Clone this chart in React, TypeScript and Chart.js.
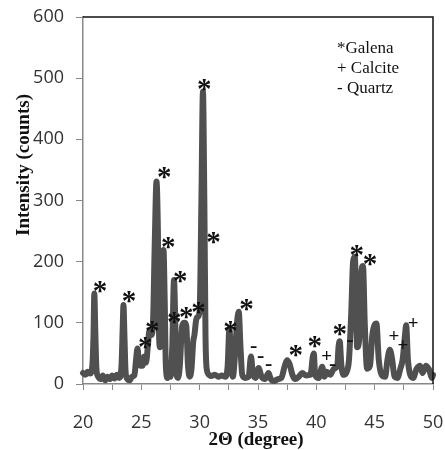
import React, { useEffect, useRef } from "react";
import { Chart, registerables } from "chart.js";

Chart.register(...registerables);

// XRD pattern: 2θ (degree) vs intensity (counts)
const twoTheta = [
  20.0, 20.2, 20.4, 20.6, 20.8, 20.9, 20.97, 21.05, 21.15, 21.3, 21.5, 21.7, 21.9, 22.1, 22.3, 22.5, 22.7, 22.9, 23.1,
  23.3, 23.4, 23.47, 23.55, 23.65, 23.8, 24.0, 24.2, 24.4, 24.55, 24.67, 24.8, 24.95, 25.1, 25.25, 25.4, 25.55, 25.7,
  25.85, 26.0, 26.15, 26.3, 26.42, 26.52, 26.6, 26.75, 26.9, 27.0, 27.1, 27.25, 27.4, 27.5, 27.65, 27.8, 27.9, 28.0,
  28.15, 28.3, 28.5, 28.7, 28.85, 29.0, 29.15, 29.3, 29.45, 29.55, 29.7, 29.85, 30.0, 30.15, 30.28, 30.4, 30.5, 30.6,
  30.8, 31.0, 31.3, 31.6, 31.9, 32.2, 32.4, 32.55, 32.7, 32.85, 33.0, 33.2, 33.35, 33.5, 33.65, 33.9, 34.2, 34.4, 34.55,
  34.8, 35.05, 35.3, 35.6, 35.9, 36.1, 36.4, 36.7, 37.0, 37.3, 37.5, 37.7, 37.95, 38.2, 38.5, 38.8, 39.1, 39.5, 39.7,
  39.78, 39.9, 40.2, 40.5, 40.7, 40.9, 41.2, 41.5, 41.8, 41.9, 42.0, 42.15, 42.35, 42.6, 42.8, 43.0, 43.15, 43.3, 43.5,
  43.7, 43.85, 44.0, 44.15, 44.35, 44.6, 44.8, 45.0, 45.15, 45.35, 45.6, 45.9, 46.1, 46.3, 46.5, 46.7, 46.95, 47.2,
  47.4, 47.6, 47.7, 47.85, 48.05, 48.3, 48.6, 48.9, 49.1, 49.4, 49.7, 49.9, 50.0,
];
const counts = [
  18, 15, 20, 17, 30, 80, 148, 90, 25, 12, 8, 14, 6, 12, 8, 14, 9, 15, 10,
  30, 90, 129, 80, 20, 8, 6, 12, 14, 40, 58, 35, 30, 30, 45, 35, 60, 88,
  80, 100, 230, 331, 250, 80, 60, 130, 219, 140, 30, 10, 20, 12, 60, 170, 110, 20,
  10, 30, 95, 100, 95, 30, 12, 25, 70, 80, 105, 110, 120, 300, 478, 300, 80, 25,
  15, 13, 15, 12, 14, 12, 30, 91, 30, 12, 40, 100, 118, 60, 15, 10, 12, 45, 18,
  10, 26, 12, 8, 18, 8, 5, 8, 10, 30, 39, 33, 15, 8, 12, 18, 14, 15, 45,
  50, 15, 10, 28, 12, 20, 15, 25, 30, 60, 70, 30, 15, 20, 40, 120, 200, 208, 60,
  80, 180, 193, 100, 25, 30, 80, 97, 99, 40, 15, 12, 40, 56, 40, 12, 10, 25,
  40, 80, 96, 40, 15, 10, 25, 30, 18, 30, 22, 10, 15,
];

// Phase markers placed above peaks
const markerX = [
  21.46, 23.95, 25.33, 25.93, 26.96, 27.31, 28.34, 27.82, 28.86, 29.89, 30.4, 31.18, 32.64, 34.02,
  34.62, 35.22, 35.91, 38.23, 39.86, 40.89, 41.41, 42.01, 42.87, 43.47, 44.59, 46.66, 47.43, 48.29,
];
const markerY = [
  158, 142, 67, 93, 345, 230, 175, 108, 116, 124, 489, 239, 93, 129,
  60, 44, 31, 54, 69, 46, 31, 88, 70, 217, 203, 80, 65, 100,
];
const markerText = [
  "*", "*", "*", "*", "*", "*", "*", "*", "*", "*", "*", "*", "*", "*",
  "-", "-", "-", "*", "*", "+", "-", "*", "-", "*", "*", "+", "+", "+",
];

const legendLines = ["*Galena", "+ Calcite", "- Quartz"];
const xTitle = "2\u0398 (degree)";
const yTitle = "Intensity (counts)";

function zeroPadding(s: any) {
  s.paddingTop = 0;
  s.paddingBottom = 0;
  s.paddingLeft = 0;
  s.paddingRight = 0;
}

export default function App() {
  const ref = useRef<HTMLCanvasElement | null>(null);

  useEffect(() => {
    const canvas = ref.current;
    if (!canvas) return;

    const overlay = {
      id: "overlay",
      afterDatasetsDraw(chart: any) {
        const ctx = chart.ctx;
        const xs = chart.scales.x;
        const ys = chart.scales.y;
        ctx.save();
        ctx.fillStyle = "#111";
        ctx.textAlign = "center";
        ctx.textBaseline = "alphabetic";
        for (let i = 0; i < markerX.length; i++) {
          const t = markerText[i];
          if (t === "*") ctx.font = 'bold 29px "Liberation Serif"';
          else if (t === "+") ctx.font = 'bold 19px "Liberation Serif"';
          else ctx.font = 'bold 22px "Liberation Serif"';
          const m = ctx.measureText(t);
          const px = xs.getPixelForValue(markerX[i]);
          const py = ys.getPixelForValue(markerY[i]);
          const yy = py + (m.actualBoundingBoxAscent - m.actualBoundingBoxDescent) / 2;
          ctx.fillText(t, px, yy);
        }
        ctx.restore();
      },
      afterDraw(chart: any) {
        const ctx = chart.ctx;
        const a = chart.chartArea;
        ctx.save();
        // top and right frame
        ctx.strokeStyle = "#111";
        ctx.lineWidth = 1.5;
        ctx.beginPath();
        ctx.moveTo(a.left, a.top);
        ctx.lineTo(a.right, a.top);
        ctx.lineTo(a.right, a.bottom);
        ctx.stroke();
        // legend text
        ctx.fillStyle = "#111";
        ctx.font = '17px "Liberation Serif"';
        ctx.textAlign = "left";
        ctx.textBaseline = "alphabetic";
        legendLines.forEach((s, i) => ctx.fillText(s, 337, 53 + i * 19.8));
        // axis titles
        ctx.font = 'bold 19px "Liberation Serif"';
        ctx.textAlign = "center";
        ctx.textBaseline = "middle";
        ctx.fillText(xTitle, 256, 440);
        ctx.translate(24, 165);
        ctx.rotate(-Math.PI / 2);
        ctx.fillText(yTitle, 0, 0);
        ctx.restore();
      },
    };

    const chart = new Chart(canvas, {
      type: "line",
      data: {
        datasets: [
          {
            data: twoTheta.map((x, i) => ({ x, y: counts[i] })),
            borderColor: "#505050",
            borderWidth: 6,
            pointRadius: 0,
            fill: false,
            cubicInterpolationMode: "monotone",
            borderJoinStyle: "round",
            borderCapStyle: "round",
            clip: 4,
          } as any,
        ],
      },
      options: {
        animation: false,
        responsive: false,
        devicePixelRatio: 1,
        layout: { padding: { left: 0, right: 12, top: 17, bottom: 0 } },
        plugins: { legend: { display: false }, tooltip: { enabled: false } },
        scales: {
          x: {
            type: "linear",
            min: 20,
            max: 50,
            afterFit: (s: any) => {
              s.height = 66;
              zeroPadding(s);
            },
            afterBuildTicks: (s: any) => {
              const t = [];
              for (let v = 20; v <= 50; v += 2.5) t.push({ value: v });
              s.ticks = t;
            },
            ticks: {
              autoSkip: false,
              maxRotation: 0,
              padding: 22,
              color: "#333",
              font: { family: '"Open Sans"', size: 18 },
              callback: (v: any) => (Number(v) % 5 === 0 ? String(v) : ""),
            },
            grid: { display: true, drawOnChartArea: false, drawTicks: true, tickLength: 6, color: "#888" },
            border: { display: true, color: "#888", width: 1.5 },
          },
          y: {
            min: 0,
            max: 600,
            afterFit: (s: any) => {
              s.width = 83;
              zeroPadding(s);
            },
            ticks: {
              stepSize: 100,
              padding: 12,
              color: "#333",
              font: { family: '"Open Sans"', size: 18 },
            },
            grid: { display: true, drawOnChartArea: false, drawTicks: true, tickLength: 7, color: "#888" },
            border: { display: true, color: "#888", width: 1.5 },
          },
        },
      },
      plugins: [overlay],
    });

    return () => chart.destroy();
  }, []);

  return (
    <div style={{ position: "fixed", left: 0, top: 0, width: 445, height: 450, background: "#fff" }}>
      <canvas ref={ref} width={445} height={450} style={{ width: 445, height: 450 }} />
    </div>
  );
}
